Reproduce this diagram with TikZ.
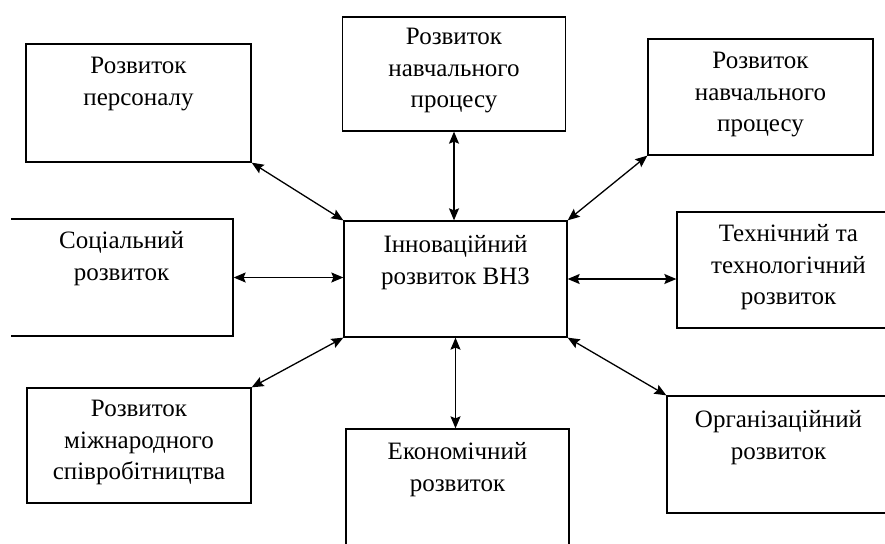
\documentclass[tikz,border=0pt]{standalone}
\usepackage{fontspec}
\setmainfont{LiberationSerif}[Extension=.ttf, UprightFont=*-Regular]
\usetikzlibrary{arrows.meta}

\begin{document}
\begin{tikzpicture}[x=1pt, y=-1pt,
		box/.style={rectangle, draw, line width=1.3pt, inner sep=0pt},
		lbl/.style={anchor=north, align=center, inner sep=0pt, font=\fontsize{25}{31.5}\selectfont},
		link/.style={{Stealth[length=12pt,width=10pt,inset=2pt]}-{Stealth[length=12pt,width=10pt,inset=2pt]}, line width=1.3pt}]
			\useasboundingbox (0,0) rectangle (885,543);
			\clip (11,0) rectangle (885,543);
			
			\node[box, minimum width=225pt, minimum height=118pt] (pers) at (138.5,103) {};
			\node[box, minimum width=223pt, minimum height=114pt] (navch) at (454,74) {};
			\node[box, minimum width=225pt, minimum height=116pt] (navchr) at (760.5,97) {};
			\node[box, minimum width=223pt, minimum height=117pt] (soc) at (121.5,277.5) {};
			\node[box, minimum width=223pt, minimum height=116pt] (inno) at (455.5,279) {};
			\node[box, minimum width=223pt, minimum height=116pt] (tekh) at (788.5,270) {};
			\node[box, minimum width=224pt, minimum height=115pt] (mizhn) at (139,445.5) {};
			\node[box, minimum width=223pt, minimum height=116pt] (ekon) at (457.5,487) {};
			\node[box, minimum width=223pt, minimum height=117pt] (orh) at (778.5,454.5) {};
			
			\node[lbl] (perstxt) at ([yshift=-14pt]pers.north) {Розвиток\\персоналу};
			\node[lbl] (navchtxt) at ([yshift=-12pt]navch.north) {Розвиток\\навчального\\процесу};
			\node[lbl] (navchrtxt) at ([yshift=-14pt]navchr.north) {Розвиток\\навчального\\процесу};
			\node[lbl] (soctxt) at ([yshift=-13pt]soc.north) {Соціальний\\розвиток};
			\node[lbl] (innotxt) at ([yshift=-15pt]inno.north) {Інноваційний\\розвиток ВНЗ};
			\node[lbl] (tekhtxt) at ([yshift=-13pt]tekh.north) {Технічний та\\технологічний\\розвиток};
			\node[lbl] (mizhntxt) at ([yshift=-13pt]mizhn.north) {Розвиток\\міжнародного\\співробітництва};
			\node[lbl] (ekontxt) at ([yshift=-14pt]ekon.north) {Економічний\\розвиток};
			\node[lbl] (orhtxt) at ([yshift=-15pt]orh.north) {Організаційний\\розвиток};
			
			\draw[link] (pers.south east) -- (inno.north west);
			\draw[link] (navch.south) -- (navch.south |- inno.north);
			\draw[link] (navchr.south west) -- (inno.north east);
			\draw[link] (soc.east) -- (soc.east -| inno.west);
			\draw[link] (inno.east) -- (inno.east -| tekh.west);
			\draw[link] (mizhn.north east) -- (inno.south west);
			\draw[link] (inno.south) -- (inno.south |- ekon.north);
			\draw[link] (inno.south east) -- (orh.north west);
		\end{tikzpicture}
\end{document}
